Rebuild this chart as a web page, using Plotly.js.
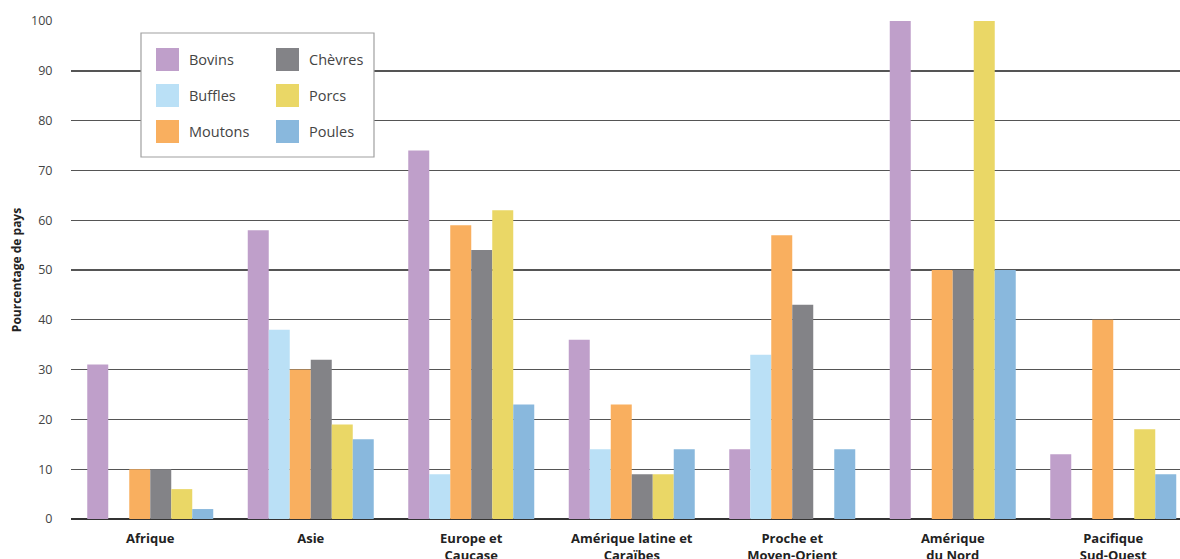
<!DOCTYPE html>
<html>
<head>
<meta charset="utf-8">
<script src="https://cdn.plot.ly/plotly-3.0.1.min.js"></script>
<style>html,body{margin:0;padding:0;background:#fff;}#chart{width:1180px;height:559px;}</style>
</head>
<body>
<div id="chart"></div>
<script>
const regions = ["Afrique", "Asie", "Europe et<br>Caucase", "Amérique latine et<br>Caraïbes", "Proche et<br>Moyen-Orient", "Amérique<br>du Nord", "Pacifique<br>Sud-Ouest"];
const seriesNames = ["Bovins", "Buffles", "Moutons", "Chèvres", "Porcs", "Poules"];
const seriesColors = ["#BF9FCA", "#BAE0F6", "#F9AF5F", "#838387", "#EAD766", "#89B8DD"];
const bovins  = [31, 58, 74, 36, 14, 100, 13];
const buffles = [0, 38, 9, 14, 33, 0, 0];
const moutons = [10, 30, 59, 23, 57, 50, 40];
const chevres = [10, 32, 54, 9, 43, 50, 0];
const porcs   = [6, 19, 62, 9, 0, 100, 18];
const poules  = [2, 16, 23, 14, 14, 50, 9];
const yTicks = [0, 10, 20, 30, 40, 50, 60, 70, 80, 90, 100];

const seriesValues = [bovins, buffles, moutons, chevres, porcs, poules];

const W = 1180, H = 559;
const mL = 71, mR = 0, mT = 21, mB = 40;
const pw = W - mL - mR, ph = H - mT - mB;
const catWidth = 160.5;
const xStart = -0.5 + 1 / catWidth;

const traces = seriesNames.map((name, i) => ({
  type: 'bar',
  name: name,
  x: regions,
  y: seriesValues[i],
  marker: {color: seriesColors[i], line: {width: 0}},
  showlegend: false,
  hoverinfo: 'x+y+name'
}));

// custom legend (paper coordinates from pixel positions)
const px = v => (v - mL) / pw;
const py = v => (H - mB - v) / ph;
const shapes = [];
const annotations = [];
shapes.push({type: 'rect', xref: 'paper', yref: 'paper', x0: px(141), x1: px(374), y0: py(157), y1: py(33),
  line: {color: '#a0a0a0', width: 1.2}, fillcolor: '#ffffff', layer: 'above'});
seriesNames.forEach((name, i) => {
  const col = Math.floor(i / 3), row = i % 3;
  const sx = 156 + col * 120, sy = 48 + row * 36;
  shapes.push({type: 'rect', xref: 'paper', yref: 'paper', x0: px(sx), x1: px(sx + 23), y0: py(sy + 23), y1: py(sy),
    line: {width: 0}, fillcolor: seriesColors[i], layer: 'above'});
  annotations.push({xref: 'paper', yref: 'paper', x: px(sx + 31), y: py(sy + 11.5), xanchor: 'left', yanchor: 'middle',
    text: name, showarrow: false, font: {family: 'Open Sans, sans-serif', size: 14.5, color: '#444'}});
});

const layout = {
  width: W, height: H,
  margin: {l: mL, r: mR, t: mT, b: mB, pad: 0},
  paper_bgcolor: '#fff', plot_bgcolor: '#fff',
  barmode: 'group', bargap: 0.215, bargroupgap: 0,
  showlegend: false,
  xaxis: {
    type: 'category',
    range: [xStart, xStart + pw / catWidth],
    showgrid: false, zeroline: false, showline: false,
    ticks: 'outside', ticklen: 7, tickcolor: 'rgba(0,0,0,0)',
    tickfont: {family: 'Open Sans, sans-serif', size: 13, color: '#222', weight: 'bold'},
    tickangle: 0
  },
  yaxis: {
    range: [0, 100],
    tickvals: yTicks,
    ticktext: yTicks.map(String),
    showgrid: true, gridcolor: '#555', gridwidth: 1.4,
    zeroline: true, zerolinecolor: '#333', zerolinewidth: 1.6,
    showline: false,
    ticks: 'outside', ticklen: 15, tickcolor: 'rgba(0,0,0,0)',
    tickfont: {family: 'Open Sans, sans-serif', size: 12.5, color: '#444'},
    title: {text: 'Pourcentage de pays', font: {family: 'Open Sans, sans-serif', size: 12, color: '#222', weight: 'bold'}, standoff: 6},
    automargin: false
  },
  shapes: shapes,
  annotations: annotations
};

Plotly.newPlot('chart', traces, layout, {displayModeBar: false, staticPlot: true});
</script>
</body>
</html>
